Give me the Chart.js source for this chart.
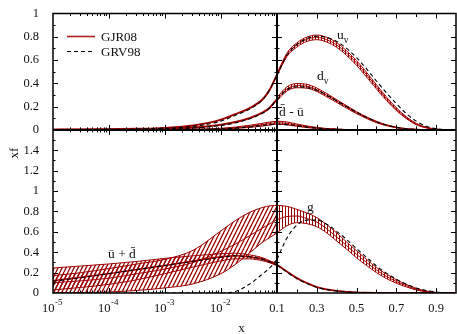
<!DOCTYPE html>
<html><head><meta charset="utf-8">
<script src="https://cdn.jsdelivr.net/npm/chart.js@4/dist/chart.umd.min.js"></script>
<style>html,body{margin:0;padding:0;background:#fff;overflow:hidden}#wrap{width:457px;height:334px}</style>
</head><body><div id="wrap"><canvas id="c" width="457" height="334"></canvas></div>
<script>
// ---------- x grids ----------
const xLog = [1e-5, 3.2e-5, 1e-4, 3.2e-4, 1e-3, 3.2e-3, 1e-2, 1.8e-2, 3.2e-2, 5.6e-2, 7.5e-2, 0.1];
const xLin = [0.1, 0.15, 0.2, 0.25, 0.3, 0.35, 0.4, 0.45, 0.5, 0.55, 0.6, 0.65, 0.7, 0.75, 0.8, 0.85, 0.9, 0.95, 1.0];

// ---------- top panel (valence, d-bar minus u-bar) ----------
const uvLog    = [0.002, 0.003, 0.005, 0.009, 0.017, 0.038, 0.088, 0.135, 0.185, 0.265, 0.35, 0.475];
const uvGrvLog = [0.001, 0.002, 0.004, 0.007, 0.013, 0.03, 0.075, 0.125, 0.178, 0.26, 0.35, 0.472];
const dvLog    = [0.001, 0.002, 0.003, 0.005, 0.009, 0.02, 0.045, 0.068, 0.10, 0.15, 0.193, 0.265];
const dvGrvLog = [0.001, 0.001, 0.002, 0.004, 0.007, 0.016, 0.038, 0.06, 0.094, 0.145, 0.19, 0.262];
const dbuLog    = [0, 0, 0, 0.001, 0.002, 0.004, 0.01, 0.018, 0.03, 0.045, 0.055, 0.062];
const dbuUpLog  = [0, 0, 0.001, 0.002, 0.003, 0.006, 0.014, 0.024, 0.039, 0.057, 0.068, 0.075];
const dbuLoLog  = [0, 0, 0, 0, 0.001, 0.002, 0.006, 0.012, 0.021, 0.033, 0.042, 0.05];
const dbuGrvLog = [0, 0, 0, 0, 0.001, 0.003, 0.008, 0.015, 0.025, 0.038, 0.045, 0.05];

const uvLin    = [0.475, 0.645, 0.73, 0.778, 0.795, 0.775, 0.73, 0.66, 0.575, 0.475, 0.37, 0.268, 0.178, 0.105, 0.05, 0.02, 0.006, 0.001, 0];
const uvUpLin  = [0.485, 0.66, 0.748, 0.797, 0.815, 0.795, 0.75, 0.68, 0.595, 0.495, 0.388, 0.283, 0.19, 0.113, 0.056, 0.023, 0.007, 0.001, 0];
const uvLoLin  = [0.465, 0.63, 0.712, 0.76, 0.775, 0.755, 0.71, 0.64, 0.555, 0.455, 0.352, 0.253, 0.166, 0.097, 0.044, 0.017, 0.005, 0.001, 0];
const uvGrvLin = [0.472, 0.64, 0.735, 0.785, 0.805, 0.795, 0.76, 0.70, 0.62, 0.525, 0.42, 0.32, 0.225, 0.14, 0.075, 0.032, 0.01, 0.002, 0];
const dvLin    = [0.265, 0.352, 0.38, 0.375, 0.345, 0.298, 0.248, 0.197, 0.148, 0.105, 0.068, 0.04, 0.021, 0.009, 0.004, 0.001, 0, 0, 0];
const dvUpLin  = [0.28, 0.37, 0.398, 0.392, 0.36, 0.312, 0.26, 0.208, 0.157, 0.112, 0.074, 0.044, 0.024, 0.011, 0.005, 0.002, 0, 0, 0];
const dvLoLin  = [0.25, 0.334, 0.362, 0.358, 0.33, 0.284, 0.236, 0.186, 0.139, 0.098, 0.062, 0.036, 0.018, 0.007, 0.003, 0.001, 0, 0, 0];
const dvGrvLin = [0.262, 0.345, 0.37, 0.365, 0.34, 0.298, 0.25, 0.2, 0.152, 0.108, 0.07, 0.042, 0.022, 0.01, 0.004, 0.001, 0, 0, 0];
const dbuLin    = [0.062, 0.055, 0.04, 0.027, 0.016, 0.009, 0.005, 0.002, 0.001, 0, 0, 0, 0, 0, 0, 0, 0, 0, 0];
const dbuUpLin  = [0.075, 0.068, 0.05, 0.034, 0.021, 0.012, 0.007, 0.003, 0.001, 0, 0, 0, 0, 0, 0, 0, 0, 0, 0];
const dbuLoLin  = [0.05, 0.043, 0.031, 0.02, 0.011, 0.006, 0.003, 0.001, 0, 0, 0, 0, 0, 0, 0, 0, 0, 0, 0];
const dbuGrvLin = [0.05, 0.045, 0.035, 0.024, 0.015, 0.009, 0.005, 0.002, 0.001, 0, 0, 0, 0, 0, 0, 0, 0, 0, 0];

// ---------- bottom panel (gluon, sea) ----------
const gUpLog    = [0.17, 0.2, 0.24, 0.285, 0.33, 0.42, 0.61, 0.71, 0.79, 0.84, 0.855, 0.86];
const gLog      = [0.10, 0.12, 0.145, 0.19, 0.235, 0.3, 0.41, 0.48, 0.56, 0.64, 0.68, 0.72];
const gLoLog    = [0.0, 0.003, 0.01, 0.025, 0.05, 0.09, 0.19, 0.28, 0.39, 0.5, 0.545, 0.59];
const gGrvLog   = [0, 0, 0, 0, 0, 0, 0, 0.015, 0.085, 0.19, 0.25, 0.33];
const seaUpLog  = [0.245, 0.265, 0.285, 0.31, 0.34, 0.365, 0.385, 0.39, 0.375, 0.345, 0.315, 0.29];
const seaLog    = [0.12, 0.155, 0.19, 0.23, 0.27, 0.315, 0.355, 0.365, 0.355, 0.33, 0.305, 0.278];
const seaLoLog  = [0.03, 0.055, 0.085, 0.13, 0.19, 0.255, 0.315, 0.335, 0.335, 0.315, 0.295, 0.268];
const seaGrvLog = [0.115, 0.15, 0.19, 0.23, 0.27, 0.31, 0.35, 0.365, 0.355, 0.33, 0.305, 0.275];

const gUpLin    = [0.86, 0.85, 0.82, 0.785, 0.74, 0.67, 0.59, 0.5, 0.415, 0.33, 0.25, 0.185, 0.13, 0.085, 0.045, 0.02, 0.006, 0.001, 0];
const gLin      = [0.72, 0.75, 0.755, 0.73, 0.695, 0.63, 0.55, 0.465, 0.38, 0.3, 0.225, 0.163, 0.113, 0.072, 0.037, 0.016, 0.0045, 0.001, 0];
const gLoLin    = [0.59, 0.66, 0.69, 0.68, 0.65, 0.59, 0.51, 0.43, 0.345, 0.27, 0.2, 0.142, 0.096, 0.06, 0.03, 0.012, 0.003, 0.0005, 0];
const gGrvLin   = [0.33, 0.54, 0.665, 0.715, 0.715, 0.675, 0.605, 0.525, 0.435, 0.35, 0.265, 0.195, 0.135, 0.087, 0.05, 0.025, 0.01, 0.002, 0];
const seaLin    = [0.278, 0.21, 0.146, 0.098, 0.058, 0.035, 0.02, 0.012, 0.006, 0.003, 0.001, 0, 0, 0, 0, 0, 0, 0, 0];
const seaGrvLin = [0.275, 0.205, 0.14, 0.093, 0.056, 0.033, 0.019, 0.011, 0.006, 0.003, 0.001, 0, 0, 0, 0, 0, 0, 0, 0];

// ---------- tick labels / texts ----------
const logTickExps = [-5, -4, -3, -2];
const linTickLabels = ['0.1', '0.3', '0.5', '0.7', '0.9'];
const legendNames = ['GJR08', 'GRV98'];

const RED = '#a00000';
const HATCH = '#9a0000';
const FONT = '"Liberation Serif", "Times New Roman", serif';

const canvas = document.getElementById('c');
const cctx = canvas.getContext('2d');
function makeDiag() {
  const t = document.createElement('canvas'); t.width = 4; t.height = 8;
  const g = t.getContext('2d'); g.strokeStyle = HATCH; g.lineWidth = 1.25;
  for (let k = -1; k <= 1; k++) { g.beginPath(); g.moveTo(k * 4, 8); g.lineTo(k * 4 + 4, 0); g.stroke(); }
  return cctx.createPattern(t, 'repeat');
}
function makeVert() {
  const t = document.createElement('canvas'); t.width = 3; t.height = 1;
  const g = t.getContext('2d'); g.fillStyle = HATCH; g.fillRect(0, 0, 1, 1);
  return cctx.createPattern(t, 'repeat');
}
const DIAG = makeDiag(), VERT = makeVert();

const ds = [];
function mk(x, y, xa, ya, opts) {
  return Object.assign({
    data: x.map((v, i) => ({x: v, y: y[i]})),
    xAxisID: xa, yAxisID: ya,
    borderColor: RED, borderWidth: 1, pointRadius: 0, fill: false,
    cubicInterpolationMode: 'monotone', order: 2
  }, opts || {});
}
function band(x, lo, up, xa, ya, pat) {
  ds.push(mk(x, lo, xa, ya, {order: 3}));
  const i = ds.length - 1;
  ds.push(mk(x, up, xa, ya, {order: 3, fill: {target: i}, backgroundColor: pat}));
}
function center(x, y, xa, ya, w) { ds.push(mk(x, y, xa, ya, {order: 2, borderWidth: w || 1})); }
function grv(x, y, xa, ya) { ds.push(mk(x, y, xa, ya, {order: 1, borderColor: '#000', borderWidth: 1.1, borderDash: [4, 3]})); }

// top panel
band(xLog, dbuLoLog, dbuUpLog, 'xlog', 'ytop', DIAG);
center(xLog, dbuLog, 'xlog', 'ytop');
center(xLog, uvLog, 'xlog', 'ytop', 2);
center(xLog, dvLog, 'xlog', 'ytop', 2);
band(xLin, uvLoLin, uvUpLin, 'xlin', 'ytop', VERT);
center(xLin, uvLin, 'xlin', 'ytop');
band(xLin, dvLoLin, dvUpLin, 'xlin', 'ytop', VERT);
center(xLin, dvLin, 'xlin', 'ytop');
band(xLin, dbuLoLin, dbuUpLin, 'xlin', 'ytop', VERT);
center(xLin, dbuLin, 'xlin', 'ytop');
grv(xLog, uvGrvLog, 'xlog', 'ytop'); grv(xLog, dvGrvLog, 'xlog', 'ytop'); grv(xLog, dbuGrvLog, 'xlog', 'ytop');
grv(xLin, uvGrvLin, 'xlin', 'ytop'); grv(xLin, dvGrvLin, 'xlin', 'ytop'); grv(xLin, dbuGrvLin, 'xlin', 'ytop');
// bottom panel
band(xLog, gLoLog, gUpLog, 'xlog', 'ybot', DIAG);
center(xLog, gLog, 'xlog', 'ybot');
band(xLog, seaLoLog, seaUpLog, 'xlog', 'ybot', DIAG);
center(xLog, seaLog, 'xlog', 'ybot', 1.5);
band(xLin, gLoLin, gUpLin, 'xlin', 'ybot', VERT);
center(xLin, gLin, 'xlin', 'ybot');
center(xLin, seaLin, 'xlin', 'ybot', 1.8);
grv(xLog, gGrvLog, 'xlog', 'ybot'); grv(xLog, seaGrvLog, 'xlog', 'ybot');
grv(xLin, gGrvLin, 'xlin', 'ybot'); grv(xLin, seaGrvLin, 'xlin', 'ybot');

function linLabel(v) {
  const s = (Math.round(v * 10) / 10).toFixed(1);
  return linTickLabels.indexOf(s) >= 0 ? s : '';
}
function yLabel(max) {
  return v => {
    const k = Math.round(v * 10);
    if (k % 2 !== 0 || k >= max * 10) return k === 10 && max === 1 ? '1' : '';
    return String(k / 10);
  };
}
const tickFont = {family: FONT, size: 12.5};
const common = {grid: {display: false}, border: {display: false}};

const decor = {
  id: 'decor',
  afterDatasetsDraw(chart) {
    const ctx = chart.ctx, s = chart.scales;
    const L = s.xlog.left, M = s.xlog.right, R = s.xlin.right;
    const T = s.ytop.top, Z = s.ytop.bottom, B = s.ybot.bottom;
    ctx.save();
    ctx.strokeStyle = '#000'; ctx.lineWidth = 1;
    const seg = (x1, y1, x2, y2) => { ctx.beginPath(); ctx.moveTo(x1, y1); ctx.lineTo(x2, y2); ctx.stroke(); };
    // x ticks
    const xt = [];
    for (let d = -5; d <= -2; d++) for (let m = 1; m <= 9; m++) {
      if (d === -5 && m === 1) continue;
      xt.push([s.xlog.getPixelForValue(m * Math.pow(10, d)), m === 1 ? 5 : 2.5]);
    }
    for (let k = 2; k <= 9; k++) xt.push([s.xlin.getPixelForValue(k / 10), k % 2 ? 5 : 3.5]);
    xt.forEach(([p, l]) => { p = Math.round(p) + 0.5; seg(p, T, p, T + l); seg(p, Z, p, Z - l); seg(p, Z, p, Z + l); seg(p, B, p, B - l); });
    // y ticks
    const yt = [];
    for (let k = 1; k <= 9; k++) yt.push([s.ytop.getPixelForValue(k / 10), k % 2 ? 2.5 : 5]);
    for (let k = 1; k <= 15; k++) yt.push([s.ybot.getPixelForValue(k / 10), k % 2 ? 2.5 : 5]);
    yt.forEach(([p, l]) => { p = Math.round(p) + 0.5; seg(L, p, L + l, p); seg(M, p, M - l, p); seg(M, p, M + l, p); seg(R, p, R - l, p); });
    // frame
    ctx.lineWidth = 1.5;
    ctx.strokeRect(L, T, R - L, B - T);
    ctx.lineWidth = 2;
    seg(L, Z, R, Z);
    seg(M, T, M, B);
    // log-axis tick labels 10^n
    ctx.fillStyle = '#111'; ctx.textBaseline = 'alphabetic'; ctx.textAlign = 'left';
    logTickExps.forEach(e => {
      const p = s.xlog.getPixelForValue(Math.pow(10, e));
      ctx.font = '12.5px ' + FONT; const wb = ctx.measureText('10').width;
      ctx.font = '9px ' + FONT; const ex = '-' + String(-e); const we = ctx.measureText(ex).width;
      const x0 = p - (wb + we) / 2 - 1;
      ctx.font = '12.5px ' + FONT; ctx.fillText('10', x0, 311.5);
      ctx.font = '9px ' + FONT; ctx.fillText(ex, x0 + wb + 0.5, 305);
    });
    // legend
    ctx.lineWidth = 1.6; ctx.strokeStyle = '#b02020';
    seg(67, 36.5, 95, 36.5);
    ctx.strokeStyle = '#000'; ctx.lineWidth = 1.1; ctx.setLineDash([4, 3]);
    seg(67, 51.5, 95, 51.5);
    ctx.setLineDash([]);
    ctx.font = '13px ' + FONT;
    ctx.fillText(legendNames[0], 101, 41);
    ctx.fillText(legendNames[1], 101, 56);
    // curve annotations
    const sub = (b, sb, x, y) => {
      ctx.font = '13.5px ' + FONT; ctx.fillText(b, x, y);
      const w = ctx.measureText(b).width;
      ctx.font = '9.5px ' + FONT; ctx.fillText(sb, x + w, y + 4);
    };
    sub('u', 'v', 337, 38.5);
    sub('d', 'v', 317, 80);
    ctx.font = '13.5px ' + FONT;
    ctx.fillText('d\u0304 - \u016B', 279, 115.5);
    ctx.fillText('g', 307, 210.5);
    ctx.fillText('\u016B + d\u0304', 108, 258);
    // axis titles
    ctx.font = '13px ' + FONT; ctx.textAlign = 'center'; ctx.textBaseline = 'middle';
    ctx.fillText('x', 241.5, 329);
    ctx.translate(15, 153); ctx.rotate(-Math.PI / 2);
    ctx.fillText('xf', 0, 0);
    ctx.restore();
  }
};

new Chart(canvas, {
  type: 'line',
  data: {datasets: ds},
  options: {
    responsive: false, animation: false, devicePixelRatio: 1, events: [],
    layout: {padding: {top: 12, right: 1, left: 0, bottom: 0}},
    plugins: {legend: {display: false}, tooltip: {enabled: false}},
    scales: {
      xlog: Object.assign({type: 'logarithmic', position: 'bottom', stack: 'x', stackWeight: 224, weight: 0,
        min: 1e-5, max: 0.1,
        ticks: {autoSkip: false, maxRotation: 0, minRotation: 0, padding: 0, font: tickFont, callback: () => ''},
        afterFit: sc => { sc.height = 41; }}, common),
      xlin: Object.assign({type: 'linear', position: 'bottom', stack: 'x', stackWeight: 179, weight: 1,
        min: 0.1, max: 1.0,
        ticks: {stepSize: 0.1, maxTicksLimit: 20, autoSkip: false, maxRotation: 0, minRotation: 0, padding: 0, color: '#111', font: tickFont, callback: linLabel},
        afterFit: sc => { sc.height = 41; }}, common),
      ytop: Object.assign({type: 'linear', position: 'left', stack: 'y', stackWeight: 117, weight: 1,
        min: 0, max: 1,
        ticks: {stepSize: 0.1, maxTicksLimit: 20, autoSkip: false, padding: 6, color: '#111', font: tickFont, callback: yLabel(1)},
        afterFit: sc => { sc.width = 53; }}, common),
      ybot: Object.assign({type: 'linear', position: 'left', stack: 'y', stackWeight: 164, weight: 0,
        min: 0, max: 1.6,
        ticks: {stepSize: 0.1, maxTicksLimit: 20, autoSkip: false, padding: 6, color: '#111', font: tickFont, callback: yLabel(1.6)},
        afterFit: sc => { sc.width = 53; }}, common)
    }
  },
  plugins: [decor]
});
</script>
</body></html>
